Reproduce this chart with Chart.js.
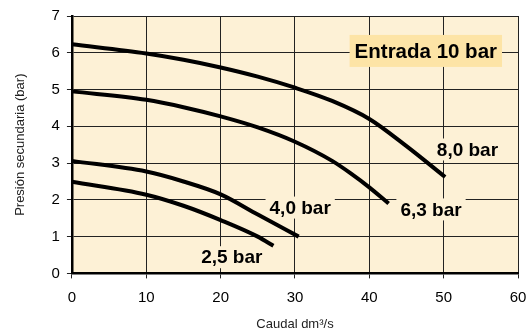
<!DOCTYPE html>
<html>
<head>
<meta charset="utf-8">
<script src="https://cdn.jsdelivr.net/npm/chart.js@4"></script>
<style>
  html, body { margin: 0; padding: 0; background: #fff; overflow: hidden; }
  #wrap { width: 528px; height: 329px; }
</style>
</head>
<body>
<div id="wrap"><canvas id="chartPresion"></canvas></div>
<script>
// curves: [caudal, presion]
const curve80 = [[0, 6.23], [10, 5.98], [15, 5.81], [20, 5.6], [25, 5.35], [30, 5.05], [35, 4.69], [40, 4.2], [45, 3.46], [50.2, 2.62]]
const curve63 = [[0, 4.95], [10, 4.72], [15, 4.52], [20, 4.27], [25, 3.97], [30, 3.58], [35, 3.06], [37.5, 2.72], [40, 2.34], [42.6, 1.9]]
const curve40 = [[0, 3.06], [10, 2.77], [15, 2.5], [20, 2.15], [25, 1.6], [30.5, 1.0]]
const curve25 = [[0, 2.49], [10, 2.14], [15, 1.84], [20, 1.45], [25, 1.0], [27.1, 0.75]]

const curveLabels = [
  {text: '8,0 bar', x: 53.2, y: 3.37},
  {text: '6,3 bar', x: 48.3, y: 1.74},
  {text: '4,0 bar', x: 30.7, y: 1.79},
  {text: '2,5 bar', x: 21.5, y: 0.44}
]
const boxTitle = {text: 'Entrada 10 bar', x: 47.6, y: 6.05}

const xTicks = [0, 10, 20, 30, 40, 50, 60]
const yTicks = [0, 1, 2, 3, 4, 5, 6, 7]

const FONT = '"Liberation Sans", Arial, sans-serif'

function toPoints(c) {
  return c.map(p => ({x: p[0], y: p[1]}))
}

const bgPlugin = {
  id: 'bg',
  beforeDraw(chart) {
    const {ctx, chartArea} = chart
    ctx.save()
    ctx.fillStyle = '#fdf1d6'
    ctx.fillRect(chartArea.left, chartArea.top, chartArea.right - chartArea.left, chartArea.bottom - chartArea.top)
    ctx.restore()
  }
}

// boxes go under the curves, text on top
const labelPlugin = {
  id: 'curveLabels',
  beforeDatasetsDraw(chart) {
    const {ctx, scales} = chart
    ctx.save()
    ctx.font = 'bold 19px ' + FONT
    ctx.fillStyle = '#fdf1d6'
    for (var i = 0; i < curveLabels.length; i++) {
      const l = curveLabels[i]
      const px = scales.x.getPixelForValue(l.x)
      const py = scales.y.getPixelForValue(l.y)
      const w = ctx.measureText(l.text).width
      ctx.fillRect(px - w / 2 - 4, py - 11, w + 8, 22)
    }
    ctx.font = 'bold 20.5px ' + FONT
    const bx = scales.x.getPixelForValue(boxTitle.x)
    const by = scales.y.getPixelForValue(boxTitle.y)
    const bw = ctx.measureText(boxTitle.text).width
    ctx.fillStyle = '#fde4a6'
    ctx.fillRect(bx - bw / 2 - 5, by - 16, bw + 10, 32)
    ctx.restore()
  },
  afterDatasetsDraw(chart) {
    const {ctx, scales} = chart
    ctx.save()
    ctx.textAlign = 'center'
    ctx.textBaseline = 'middle'
    ctx.fillStyle = '#000'
    ctx.font = 'bold 19px ' + FONT
    for (var i = 0; i < curveLabels.length; i++) {
      const l = curveLabels[i]
      ctx.fillText(l.text, scales.x.getPixelForValue(l.x), scales.y.getPixelForValue(l.y) + 1)
    }
    ctx.font = 'bold 20.5px ' + FONT
    ctx.fillText(boxTitle.text, scales.x.getPixelForValue(boxTitle.x), scales.y.getPixelForValue(boxTitle.y) + 1)
    ctx.restore()
  }
}

function curveSet(c) {
  return {
    data: toPoints(c),
    borderColor: '#000',
    borderWidth: 4,
    pointRadius: 0,
    cubicInterpolationMode: 'monotone',
    fill: false
  }
}

new Chart(document.getElementById('chartPresion'), {
  type: 'scatter',
  data: {
    datasets: [curveSet(curve80), curveSet(curve63), curveSet(curve40), curveSet(curve25)]
  },
  options: {
    responsive: true,
    maintainAspectRatio: false,
    animation: false,
    showLine: true,
    layout: {padding: {left: 13, right: 0, top: 8, bottom: -3}},
    plugins: {
      legend: {display: false},
      tooltip: {enabled: false}
    },
    scales: {
      x: {
        type: 'linear',
        min: 0,
        max: 60,
        afterBuildTicks: axis => { axis.ticks = xTicks.map(v => ({value: v})) },
        // tick padding also widens the side margins, so pin the right one
        afterFit: axis => { axis.paddingRight = 10 },
        grid: {color: '#222', lineWidth: 1, tickLength: 5, drawTicks: true},
        border: {color: '#000', width: 2.5},
        ticks: {color: '#000', font: {family: FONT, size: 15}, padding: 10},
        title: {display: true, text: 'Caudal dm³/s', color: '#222', font: {family: FONT, size: 13}, padding: {top: 0, bottom: 0}}
      },
      y: {
        type: 'linear',
        min: 0,
        max: 7,
        afterBuildTicks: axis => { axis.ticks = yTicks.map(v => ({value: v})) },
        grid: {color: '#222', lineWidth: 1, tickLength: 5, drawTicks: true},
        border: {color: '#000', width: 2.5},
        ticks: {color: '#000', font: {family: FONT, size: 15}, padding: 7},
        title: {display: true, text: 'Presión secundaria (bar)', color: '#222', font: {family: FONT, size: 13}, padding: {top: 0, bottom: 16}}
      }
    }
  },
  plugins: [bgPlugin, labelPlugin]
})
</script>
</body>
</html>
